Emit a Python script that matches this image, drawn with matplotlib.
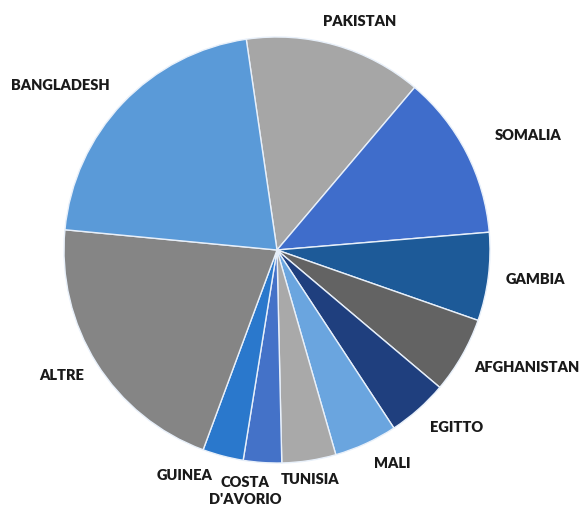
import matplotlib.pyplot as plt

# share of each country (percent), clockwise from the top
paesi = ['PAKISTAN', 'SOMALIA', 'GAMBIA', 'AFGHANISTAN', 'EGITTO', 'MALI',
         'TUNISIA', "COSTA\nD'AVORIO", 'GUINEA', 'ALTRE', 'BANGLADESH']
quote = [13.5, 12.5, 6.7, 5.8, 4.6, 4.8, 4.1, 2.9, 3.1, 20.9, 21.2]
colori = ['#a6a6a6', '#3f6dcb', '#1d5a98', '#636363', '#1f3f7e', '#6aa5df',
          '#a9a9a9', '#4472c8', '#2a78cc', '#858585', '#5a9ad8']

# label anchors in pixels (x from left, y from top)
etichette_px = [(360, 21), (528, 135), (535, 279), (527, 368), (457, 428),
                (392, 463), (310, 479), (245, 491), (185, 475), (62, 375),
                (60, 86)]

W, H = 579, 509
fig = plt.figure(figsize=(W / 100, H / 100), dpi=100)
cx, cy, r = 277, 250, 213
ax = fig.add_axes([(cx - r) / W, (H - cy - r) / H, 2 * r / W, 2 * r / H])

ax.pie(quote, colors=colori, startangle=98.3, counterclock=False,
       wedgeprops=dict(edgecolor='#e8f0fa', linewidth=1.0))
ax.set_xlim(-1, 1)
ax.set_ylim(-1, 1)
ax.set_aspect('auto')
ax.axis('off')

for nome, (px, py) in zip(paesi, etichette_px):
    fig.text(px / W, 1 - py / H, nome, ha='center', va='center',
             fontsize=10.5, fontweight='heavy', family=['Lato', 'DejaVu Sans'],
             color='#1a1a1a', linespacing=1.45)

fig.savefig('out.png', dpi=100, facecolor='white')
